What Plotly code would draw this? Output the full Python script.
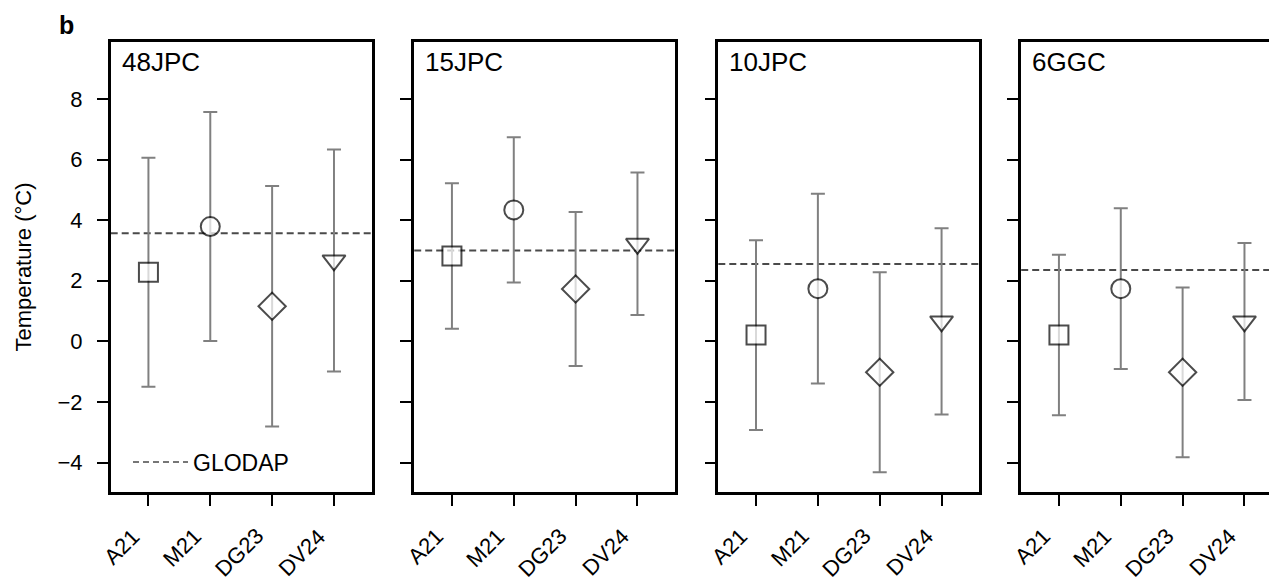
import plotly.graph_objects as go

# ---- data ----
methods = ["A21", "M21", "DG23", "DV24"]
cores = ["48JPC", "15JPC", "10JPC", "6GGC"]
temp_48JPC = [2.28, 3.79, 1.16, 2.67]
err_48JPC = [3.78, 3.78, 3.97, 3.66]
temp_15JPC = [2.82, 4.34, 1.73, 3.22]
err_15JPC = [2.40, 2.40, 2.54, 2.35]
temp_10JPC = [0.21, 1.74, -1.02, 0.66]
err_10JPC = [3.13, 3.13, 3.30, 3.07]
temp_6GGC = [0.21, 1.74, -1.02, 0.66]
err_6GGC = [2.65, 2.65, 2.80, 2.59]
glodap = [3.57, 3.00, 2.55, 2.36]
y_ticks = [-4, -2, 0, 2, 4, 6, 8]

temps = [temp_48JPC, temp_15JPC, temp_10JPC, temp_6GGC]
errs = [err_48JPC, err_15JPC, err_10JPC, err_6GGC]

# ---- styling ----
W, H = 1269, 587
ML, MR, MT, MB = 110, 0, 42, 95
PW = W - ML - MR
PH = H - MT - MB
panel_left_px = [110.7, 414.2, 718.3, 1021.2]
panel_w_px = 261.0
unit_px = panel_w_px / 4.22
xr0 = -0.61
FONT = "Liberation Sans, Arial, Helvetica, sans-serif"
symbols = ["square", "circle", "diamond", "triangle-down"]
sizes = [19, 19, 21, 20]
ERR_COLOR = "#808080"
LINE_W = 2.5
TICK_FS = 22
XTICK_FS = 22

fig = go.Figure()
layout = dict(
    width=W, height=H,
    margin=dict(l=ML, r=MR, t=MT, b=MB),
    paper_bgcolor="white", plot_bgcolor="white",
    font=dict(family=FONT, size=TICK_FS, color="black"),
    showlegend=True,
    legend=dict(x=(128 - ML) / PW, y=1 - (462 - MT) / PH,
                xanchor="left", yanchor="middle", bgcolor="rgba(0,0,0,0)",
                font=dict(size=23), itemwidth=55, borderwidth=0),
)

annotations = [
    dict(text="<b>b</b>", xref="paper", yref="paper",
         x=(57 - ML) / PW, y=1 + (MT - 25) / PH,
         xanchor="left", yanchor="middle", showarrow=False,
         font=dict(size=25, family=FONT)),
]

for i, core in enumerate(cores):
    sfx = "" if i == 0 else str(i + 1)
    L = panel_left_px[i]
    R = min(L + panel_w_px, W)
    d0 = (L - ML) / PW
    d1 = min((R - ML) / PW, 1.0)
    xr1 = xr0 + (R - L) / unit_px
    last = (i == len(cores) - 1)

    layout["xaxis" + sfx] = dict(
        domain=[d0, d1], range=[xr0, xr1], anchor="y" + sfx,
        type="category", categoryorder="array", categoryarray=methods,
        showline=True, linecolor="black", linewidth=LINE_W, mirror=True,
        ticks="outside", ticklen=11, tickwidth=2, tickcolor="black",
        showticklabels=False, showgrid=False, zeroline=False,
    )
    layout["yaxis" + sfx] = dict(
        domain=[0, 1], range=[-4.97, 9.88], anchor="x" + sfx,
        tickvals=y_ticks, showticklabels=(i == 0),
        showline=True, linecolor="black", linewidth=LINE_W, mirror=(not last),
        ticks="outside", ticklen=11, tickwidth=2, tickcolor="black",
        tickfont=dict(size=TICK_FS), ticklabelstandoff=10,
        showgrid=False, zeroline=False,
    )
    if i == 0:
        layout["yaxis"]["title"] = dict(text="Temperature (°C)",
                                        font=dict(size=22), standoff=20)

    # GLODAP reference (horizontal dashed line across the panel)
    fig.add_shape(type="line", xref="x" + sfx + " domain", yref="y" + sfx,
                  x0=0, x1=1, y0=glodap[i], y1=glodap[i],
                  line=dict(color="#4a4a4a", width=2, dash="7px,4px"),
                  layer="below")

    fig.add_trace(go.Scatter(
        x=methods, y=temps[i], mode="markers",
        xaxis="x" + sfx, yaxis="y" + sfx, showlegend=False,
        error_y=dict(type="data", array=errs[i], symmetric=True,
                     color=ERR_COLOR, thickness=2, width=7),
        marker=dict(symbol=symbols, size=sizes, color="white",
                    line=dict(color="black", width=2)),
        cliponaxis=False,
    ))

    annotations.append(dict(
        text=core, xref="x" + sfx + " domain", yref="y" + sfx + " domain",
        x=0, y=1, xshift=9, yshift=-20, xanchor="left", yanchor="middle",
        showarrow=False, font=dict(size=26, family=FONT)))

    # rotated category labels (right-aligned to each tick, like matplotlib)
    for m in methods:
        annotations.append(dict(
            text=m, xref="x" + sfx, yref="y" + sfx + " domain",
            x=m, y=0, xanchor="right", yanchor="top", textangle=-45,
            xshift=-1, yshift=-29, showarrow=False,
            font=dict(size=XTICK_FS, family=FONT)))

# legend entry for the GLODAP line
fig.add_trace(go.Scatter(
    x=[None], y=[None], mode="lines", name="GLODAP",
    line=dict(color="#4a4a4a", width=1.6, dash="6px,4px"),
    xaxis="x", yaxis="y", showlegend=True))

layout["annotations"] = annotations
fig.update_layout(**layout)
fig.write_html(
    "out.html",
    config={"displayModeBar": False},
    post_script="document.body.style.margin='0';document.body.style.overflow='hidden';",
)
